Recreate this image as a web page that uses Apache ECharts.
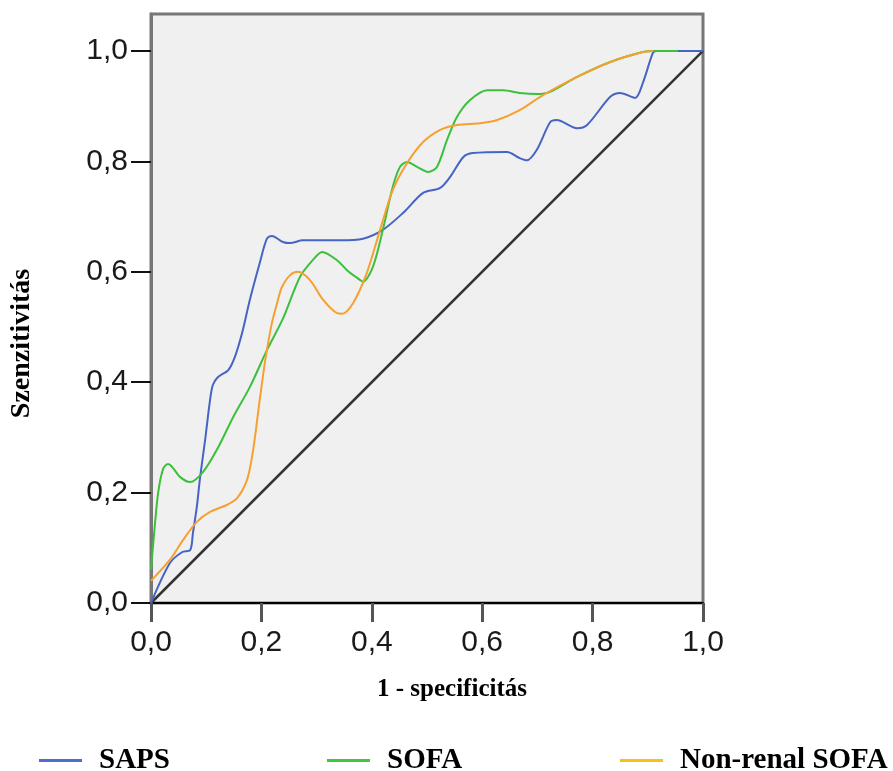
<!DOCTYPE html>
<html>
<head>
<meta charset="utf-8">
<script src="https://cdn.jsdelivr.net/npm/echarts@6/dist/echarts.min.js"></script>
<style>html,body{margin:0;padding:0;background:#fff}#c{width:893px;height:771px}</style>
</head>
<body>
<div id="c"></div>
<script>
var tickValues = [0, 0.2, 0.4, 0.6, 0.8, 1.0];
var seriesNames = ['SAPS', 'SOFA', 'Non-renal SOFA'];
var sapsPoints = [[0,0],[0.034,0.072],[0.056,0.092],[0.071,0.096],[0.076,0.127],[0.083,0.174],[0.089,0.228],[0.098,0.295],[0.107,0.368],[0.112,0.395],[0.121,0.409],[0.14,0.422],[0.152,0.446],[0.165,0.489],[0.179,0.549],[0.197,0.616],[0.21,0.66],[0.219,0.665],[0.239,0.654],[0.252,0.652],[0.275,0.657],[0.342,0.657],[0.384,0.66],[0.42,0.676],[0.457,0.707],[0.493,0.743],[0.524,0.752],[0.542,0.772],[0.566,0.808],[0.583,0.815],[0.645,0.817],[0.668,0.806],[0.681,0.802],[0.699,0.821],[0.723,0.871],[0.735,0.875],[0.772,0.86],[0.79,0.866],[0.832,0.917],[0.85,0.924],[0.877,0.915],[0.891,0.942],[0.909,0.996],[0.915,1.0],[1.0,1.0]];
var sofaPoints = [[0,0.06],[0.006,0.13],[0.013,0.2],[0.022,0.243],[0.031,0.252],[0.053,0.228],[0.071,0.219],[0.094,0.237],[0.119,0.277],[0.149,0.337],[0.179,0.391],[0.21,0.458],[0.239,0.515],[0.27,0.591],[0.293,0.621],[0.31,0.636],[0.337,0.621],[0.355,0.603],[0.379,0.585],[0.384,0.582],[0.402,0.609],[0.42,0.676],[0.438,0.754],[0.451,0.79],[0.464,0.799],[0.482,0.79],[0.502,0.781],[0.518,0.79],[0.536,0.838],[0.554,0.88],[0.578,0.911],[0.609,0.929],[0.638,0.929],[0.668,0.924],[0.699,0.922],[0.723,0.926],[0.772,0.953],[0.832,0.98],[0.891,0.998],[0.91,1.0],[0.955,1.0]];
var nonRenalPoints = [[0,0.04],[0.034,0.078],[0.058,0.114],[0.083,0.147],[0.107,0.165],[0.138,0.178],[0.156,0.19],[0.174,0.223],[0.185,0.277],[0.197,0.368],[0.207,0.44],[0.219,0.507],[0.23,0.549],[0.237,0.572],[0.252,0.594],[0.266,0.6],[0.288,0.585],[0.312,0.549],[0.337,0.525],[0.346,0.524],[0.366,0.543],[0.391,0.598],[0.415,0.676],[0.438,0.748],[0.464,0.797],[0.493,0.835],[0.524,0.857],[0.554,0.866],[0.596,0.869],[0.627,0.875],[0.668,0.893],[0.71,0.92],[0.772,0.953],[0.832,0.98],[0.891,0.998],[0.91,1.0]];
var diagonalPoints = [[0,0],[1,1]];

var colors = ['#4664c4', '#3cc03c', '#f6a030'];
var legendColors = ['#4a70cc', '#3ec83e', '#fcbf14'];
var fmt = function (v) { return v.toFixed(1).replace('.', ','); };

var chart = echarts.init(document.getElementById('c'), null, {renderer: 'canvas'});
function mkLegend(i, left) {
  return {
    left: left, top: 741, orient: 'horizontal',
    icon: 'rect', itemWidth: 43, itemHeight: 3,
    data: [{name: seriesNames[i], itemStyle: {color: legendColors[i]}}],
    textStyle: {fontFamily: 'Liberation Serif', fontWeight: 'bold', fontSize: 29, color: '#000', padding: [0, 0, 0, 12]},
    selectedMode: false
  };
}
chart.setOption({
  animation: false,
  backgroundColor: '#fff',
  grid: {left: 151, top: 14, right: 190, bottom: 168, show: true, backgroundColor: '#f0f0f0', borderColor: '#777', borderWidth: 3},
  legend: [mkLegend(0, 34), mkLegend(1, 322), mkLegend(2, 615)],
  xAxis: {
    type: 'value', min: 0, max: 1,
    name: '1 - specificitás', nameLocation: 'middle', nameGap: 74,
    nameTextStyle: {fontFamily: 'Liberation Serif', fontWeight: 'bold', fontSize: 25, color: '#000', padding: [0, 0, 0, 50]},
    axisLine: {show: true, onZero: false, lineStyle: {color: '#000', width: 2}},
    axisTick: {show: true, length: 19, customValues: tickValues, lineStyle: {color: '#555', width: 3}},
    axisLabel: {customValues: tickValues, formatter: fmt, margin: 25, fontFamily: 'Liberation Sans', fontSize: 30, color: '#1a1a1a'},
    splitLine: {show: false}
  },
  yAxis: {
    type: 'value', min: 0, max: 1.067,
    name: 'Szenzitivitás', nameLocation: 'middle', nameGap: 115, nameRotate: 90,
    nameTextStyle: {fontFamily: 'Liberation Serif', fontWeight: 'bold', fontSize: 28, color: '#000', padding: [0, 70, 0, 0]},
    axisLine: {show: true, lineStyle: {color: '#777', width: 3}},
    axisTick: {show: true, length: 20, customValues: tickValues, lineStyle: {color: '#111', width: 2}},
    axisLabel: {customValues: tickValues, formatter: fmt, margin: 23, fontFamily: 'Liberation Sans', fontSize: 30, color: '#1a1a1a'},
    splitLine: {show: false}
  },
  series: [
    {type: 'line', name: 'diag', data: diagonalPoints, symbol: 'none', lineStyle: {color: '#333', width: 2.5}, z: 1},
    {type: 'line', name: seriesNames[0], data: sapsPoints, symbol: 'none', smooth: 0.3, itemStyle: {color: colors[0]}, lineStyle: {color: colors[0], width: 2}, z: 2},
    {type: 'line', name: seriesNames[1], data: sofaPoints, symbol: 'none', smooth: 0.3, itemStyle: {color: colors[1]}, lineStyle: {color: colors[1], width: 2}, z: 3},
    {type: 'line', name: seriesNames[2], data: nonRenalPoints, symbol: 'none', smooth: 0.3, itemStyle: {color: colors[2]}, lineStyle: {color: colors[2], width: 2}, z: 4}
  ]
});
</script>
</body>
</html>
